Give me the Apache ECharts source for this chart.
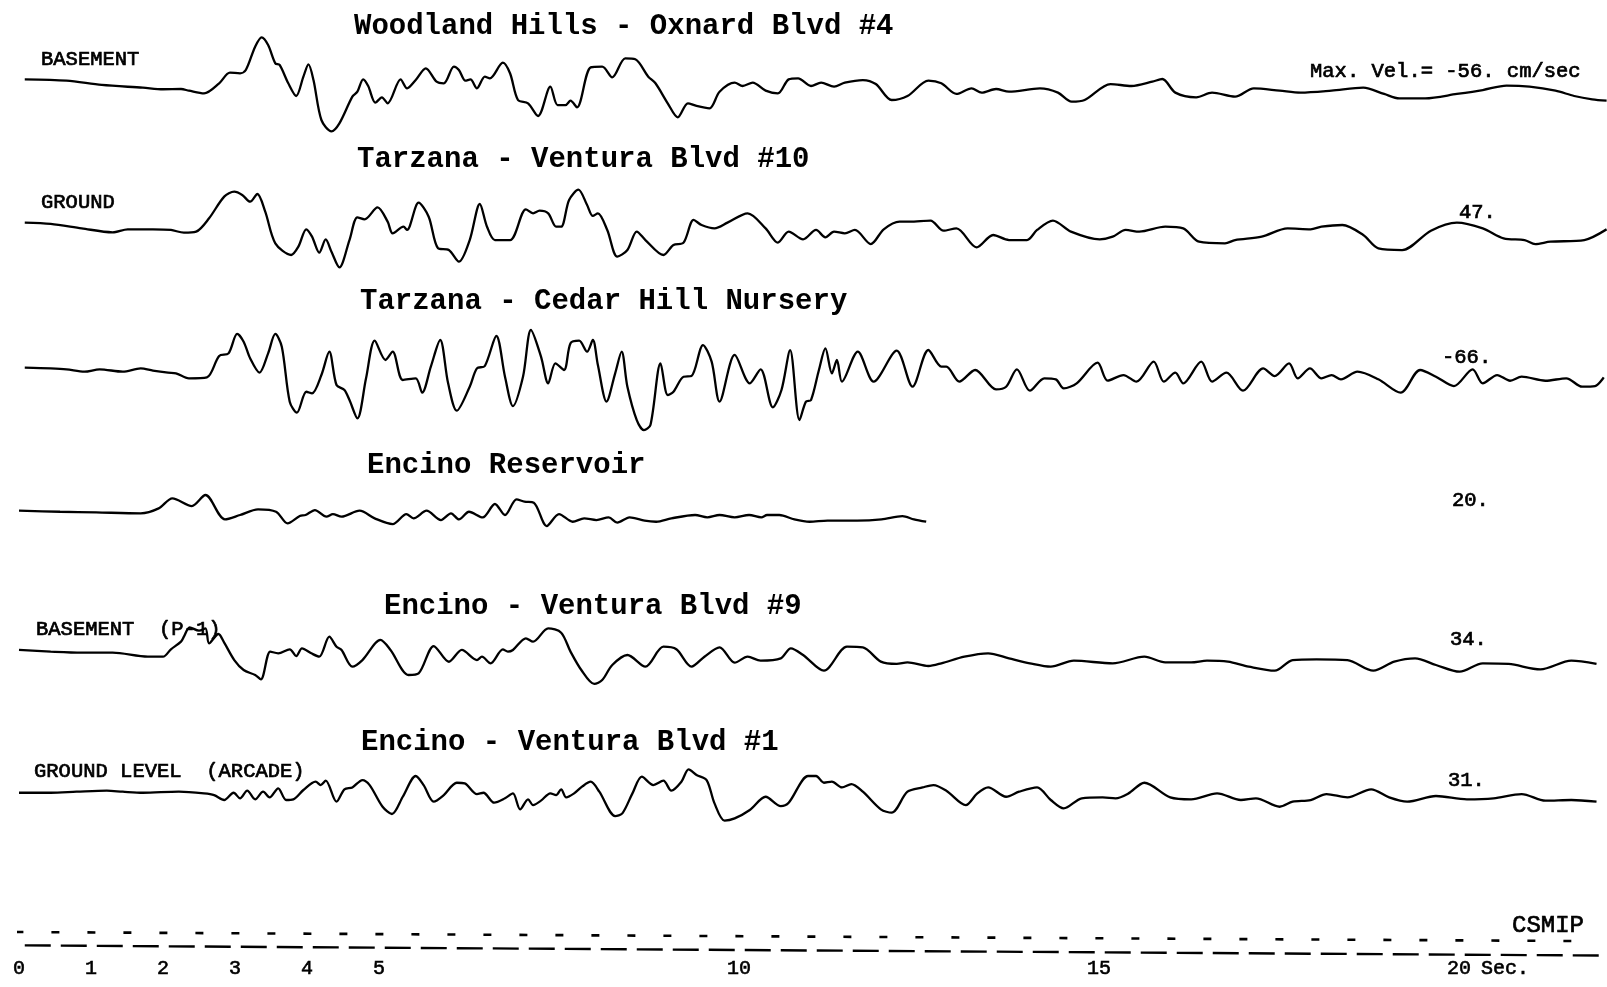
<!DOCTYPE html>
<html>
<head>
<meta charset="utf-8">
<title>Velocity records</title>
<script src="https://cdn.jsdelivr.net/npm/echarts@6/dist/echarts.min.js"></script>
<style>
  html, body { margin: 0; padding: 0; background: #fff; }
  #chart { width: 1607px; height: 987px; }
</style>
</head>
<body>
<div id="chart"></div>
<script>
// Velocity records, [time (s), velocity (cm/sec)]
const woodlandHills = [
  [0.08,-0.4],[0.66,-1.8],[1.15,-6.4],[1.72,-9.3],[2.0,-11],[2.25,-10.7],[2.36,-12.5],[2.57,-15.4],
  [2.78,-4.6],[2.93,6.8],[3.07,6.1],[3.15,9.6],[3.28,34.6],[3.37,44.6],[3.46,36.4],[3.56,16.8],
  [3.62,15],[3.74,-4.6],[3.85,-18.2],[3.95,2.5],[4.02,15.7],[4.09,-1.1],[4.2,-43.9],[4.34,-56],
  [4.45,-47.5],[4.63,-18.9],[4.7,-13.6],[4.78,-0.4],[4.85,-7.5],[4.95,-25.4],[5.04,-19.6],[5.12,-26],
  [5.3,-0.4],[5.39,-10],[5.51,-1.1],[5.65,11.4],[5.8,-2.9],[5.9,-4.6],[6.04,13.2],[6.11,9.6],
  [6.2,-1.8],[6.27,-0.4],[6.36,-10],[6.47,2.5],[6.54,0.7],[6.72,17.5],[6.82,6.1],[6.93,-22.5],
  [7.07,-26],[7.21,-39.6],[7.38,-8.2],[7.48,-27.9],[7.59,-27.9],[7.66,-23.2],[7.75,-30.4],[7.94,12.5],
  [8.1,13.2],[8.24,1.8],[8.42,22.1],[8.56,21.1],[8.74,2.5],[8.84,-4.6],[9.01,-26],[9.15,-41],
  [9.29,-26],[9.41,-28.9],[9.59,-31.4],[9.73,-13.6],[9.94,-3.9],[10.05,-7.5],[10.19,-3.9],[10.37,-12.5],
  [10.54,-15.4],[10.69,-0.4],[10.82,0.7],[11.0,-7.5],[11.14,-3.9],[11.32,-8.2],[11.47,-3.9],[11.72,-1.1],
  [11.9,-5.4],[12.12,-22.5],[12.34,-18.2],[12.63,-1.8],[12.81,-4.6],[13.02,-16],[13.23,-10],[13.37,-14.6],
  [13.57,-10.7],[13.75,-13.6],[14.18,-10],[14.43,-14.6],[14.62,-24.3],[14.8,-22.5],[15.16,-5.4],[15.45,-7.5],
  [15.74,-2.9],[15.88,0],[16.06,-14.6],[16.35,-19.6],[16.57,-14.6],[16.89,-18.9],[17.15,-10],[17.51,-12.5],
  [17.8,-14.6],[18.23,-12.5],[18.67,-9.3],[18.96,-16],[19.17,-20.7],[19.53,-20.7],[19.97,-16],[20.33,-11.8],
  [20.66,-7.1],[20.98,-8.2],[21.34,-12.5],[21.6,-18.2],[21.85,-21.8],[22.05,-23.2]
];

const tarzanaVentura = [
  [0.08,11.6],[0.44,10.2],[0.87,5.5],[1.3,1.3],[1.51,4.5],[1.86,4.5],[2.11,3.8],[2.29,0.9],
  [2.46,2],[2.64,16.3],[2.85,39.5],[2.99,44.8],[3.1,41.3],[3.21,34.1],[3.31,42.3],[3.42,23.4],
  [3.56,-10.5],[3.78,-23],[3.88,-14.1],[3.99,4.5],[4.07,-3.4],[4.17,-20.5],[4.26,-6.3],[4.34,-19.5],
  [4.45,-36.3],[4.59,-7],[4.7,17.3],[4.8,15.2],[4.98,28],[5.12,12.7],[5.19,0.2],[5.34,7.3],
  [5.39,3.8],[5.55,33],[5.69,18],[5.82,-15.9],[5.97,-17.7],[6.11,-30.2],[6.26,-7],[6.4,31.6],
  [6.5,7.3],[6.61,-7],[6.82,-7],[7.04,25.9],[7.14,21.6],[7.23,24.5],[7.35,21.6],[7.46,7.3],
  [7.53,7.3],[7.64,35.9],[7.77,47],[7.89,30.5],[7.97,18.8],[8.04,21.6],[8.17,3.8],[8.31,-24.8],
  [8.45,-17.7],[8.58,2],[8.7,-7],[8.95,-23],[9.09,-12.3],[9.23,-9.8],[9.37,14.5],[9.48,9.1],
  [9.66,5.5],[9.84,11.6],[10.12,21.6],[10.37,5.5],[10.54,-9.8],[10.69,2],[10.89,-6.3],[11.07,3.8],
  [11.2,-4.1],[11.32,2],[11.47,0.2],[11.61,3.8],[11.83,-11.3],[12.01,4.5],[12.23,12.7],[12.37,12.7],
  [12.66,13.8],[12.84,3],[13.02,5.5],[13.3,-14.8],[13.53,-1.6],[13.75,-7],[14.0,-7],[14.14,3.8],
  [14.36,13.8],[14.61,2],[15.01,-6.3],[15.19,-3.4],[15.37,3.8],[15.56,2],[15.92,7.3],[16.17,5.5],
  [16.39,-8.8],[16.75,-10.5],[16.89,-7],[17.26,-3.4],[17.62,5.5],[17.94,4.5],[18.09,7.3],[18.38,9.1],
  [18.67,-1.6],[18.88,-15.9],[19.21,-17.7],[19.61,3],[19.97,11.6],[20.33,5.5],[20.62,-5.2],[20.91,-7],
  [21.06,-11.3],[21.27,-8.8],[21.74,-7],[22.05,4.5]
];

const cedarHill = [
  [0.08,0.8],[0.44,0],[0.66,-1],[0.91,-3.5],[1.12,-1],[1.44,-3.5],[1.69,0],[1.86,-2.4],
  [2.07,-4.6],[2.18,-5.3],[2.36,-10.6],[2.61,-9.6],[2.78,13.3],[2.91,16.1],[3.03,36.9],[3.12,28.6],
  [3.21,10.8],[3.34,-4.6],[3.46,16.1],[3.56,36.9],[3.65,23.3],[3.76,-35.6],[3.86,-47.4],[3.99,-25],
  [4.07,-26.7],[4.2,-7.1],[4.31,17.9],[4.41,-17.8],[4.52,-23.1],[4.59,-33.9],[4.7,-53.5],[4.82,-10.6],
  [4.94,29.7],[5.09,9],[5.19,17.9],[5.33,-12.4],[5.51,-10.6],[5.6,-26],[5.72,1.9],[5.85,30.4],
  [5.96,-16],[6.08,-45.3],[6.26,-19.6],[6.36,0],[6.47,2.6],[6.63,34.7],[6.75,-8.9],[6.86,-40.4],
  [7.0,-8.9],[7.11,41.1],[7.25,12.6],[7.35,-16],[7.45,5.4],[7.57,-1.7],[7.66,26.9],[7.78,29.7],
  [7.89,17.9],[7.97,30.4],[8.04,3.6],[8.16,-35.6],[8.28,-5.3],[8.37,17.9],[8.45,-19.6],[8.58,-55.3],
  [8.68,-66],[8.77,-60.6],[8.91,5.4],[9.01,-28.5],[9.09,-25],[9.23,-8.9],[9.34,-8.2],[9.5,25],
  [9.62,7.2],[9.73,-35.6],[9.94,14.4],[10.15,-16],[10.3,-1],[10.47,-41.7],[10.59,-23.1],[10.71,19.5],
  [10.84,-55.3],[10.93,-35.6],[11.0,-33.9],[11.11,-1.7],[11.2,21.5],[11.29,-5.3],[11.36,9],[11.43,-14.2],
  [11.65,17.9],[11.87,-14.2],[12.19,19],[12.41,-19.6],[12.63,19.7],[12.81,1.9],[12.88,1.9],[13.06,-14.2],
  [13.28,-1.7],[13.57,-22.4],[13.71,-19.6],[13.86,-1],[14.04,-23.9],[14.24,-10.6],[14.4,-11.8],[14.51,-21.4],
  [14.69,-16],[14.98,6.1],[15.12,-13.1],[15.34,-7.1],[15.52,-14.2],[15.76,7.2],[15.9,-14.2],[16.06,-4.6],
  [16.17,-16],[16.42,7.2],[16.57,-14.2],[16.77,-4.6],[17.0,-23.9],[17.28,0],[17.44,-8.2],[17.64,5.4],
  [17.76,-10.6],[17.93,0],[18.09,-10.6],[18.23,-7.1],[18.36,-11.7],[18.59,-3.5],[18.88,-11.7],[19.19,-26],
  [19.46,-1.7],[19.68,-8.9],[19.93,-18.9],[20.19,-1],[20.33,-16],[20.53,-7.1],[20.71,-13.2],[20.87,-8.9],
  [21.2,-13.2],[21.49,-10.6],[21.71,-19.6],[21.89,-18.9],[22.01,-9.6]
];

const encinoReservoir = [
  [0.0,3.2],[0.57,2.1],[1.07,1.4],[1.69,0.4],[1.94,5.7],[2.13,16.4],[2.4,8.2],[2.59,20],
  [2.86,-6.1],[3.07,-1.4],[3.32,4.6],[3.57,2.1],[3.73,-10.4],[3.9,-2.5],[3.98,-1.4],[4.11,3.9],
  [4.27,-3.2],[4.36,-0.4],[4.48,-3.2],[4.73,3.2],[4.94,-5],[5.19,-11.1],[5.38,-0.4],[5.48,-5],
  [5.66,3.2],[5.86,-6.8],[6.0,0.4],[6.11,-6.1],[6.25,2.1],[6.44,-3.9],[6.61,10.4],[6.75,-1.4],
  [6.91,15.4],[7.02,12.9],[7.15,11.8],[7.33,-13.2],[7.5,-0.4],[7.69,-8.6],[7.85,-5],[8.02,-6.8],
  [8.19,-3.9],[8.31,-9.6],[8.48,-3.9],[8.69,-7.5],[8.85,-8.6],[9.06,-5],[9.39,-1.4],[9.56,-3.9],
  [9.73,-1.4],[9.94,-3.9],[10.14,-1.4],[10.31,-3.9],[10.39,-1.4],[10.56,-1.4],[10.77,-6.1],[10.98,-8.6],
  [11.23,-7.5],[11.64,-7.5],[11.98,-6.1],[12.27,-2.5],[12.43,-6.1],[12.6,-8.6]
];

const encinoVentura9 = [
  [0.0,2.4],[0.44,0.6],[0.87,-0.5],[1.3,-0.5],[1.79,-4.8],[2.0,-4.8],[2.11,3.1],[2.25,11.3],
  [2.29,16.6],[2.37,26.6],[2.5,23],[2.59,25.6],[2.64,9.5],[2.77,19.5],[2.85,10.2],[2.99,-8.4],
  [3.12,-19.1],[3.28,-24.4],[3.36,-29.1],[3.49,0.6],[3.6,-1.2],[3.76,3.1],[3.85,-4.1],[3.93,4.1],
  [4.06,-1.2],[4.17,-4.8],[4.31,16.6],[4.41,5.9],[4.48,2.4],[4.63,-15.5],[4.77,-8.4],[5.02,13.1],
  [5.16,2.4],[5.41,-24.4],[5.55,-22.7],[5.76,6.6],[5.97,-10.2],[6.15,2.4],[6.36,-8.4],[6.43,-4.8],
  [6.55,-11.9],[6.72,3.1],[6.79,0.6],[6.86,2.4],[7.04,14.9],[7.14,11.3],[7.35,25.6],[7.53,20.9],
  [7.66,0.6],[7.81,-19.1],[7.99,-34],[8.1,-29.8],[8.24,-13.7],[8.45,-3],[8.7,-15.5],[8.95,5.9],
  [9.13,3.1],[9.34,-15.5],[9.52,-4.8],[9.73,5.2],[9.94,-11.2],[10.12,-4.8],[10.3,-9.1],[10.58,-6.6],
  [10.72,4.1],[10.89,-3],[11.18,-19.8],[11.5,5.9],[11.72,5.2],[11.97,-10.1],[12.19,-12.6],[12.34,-10.9],
  [12.63,-14.8],[12.81,-11.9],[13.13,-4.8],[13.46,-1.2],[13.75,-6.6],[14.04,-11.9],[14.33,-15.5],[14.65,-9.1],
  [15.19,-11.9],[15.63,-4.8],[15.92,-10.9],[16.28,-10.9],[16.5,-9.1],[16.79,-10.2],[17.08,-15.5],[17.44,-19.8],
  [17.69,-8.4],[18.02,-7.6],[18.45,-8.4],[18.81,-19.8],[19.1,-10.2],[19.39,-6.6],[19.68,-13.7],[20.01,-20.9],
  [20.33,-11.9],[20.69,-12.6],[21.13,-18.4],[21.56,-9.1],[21.91,-12.6]
];

const encinoVentura1 = [
  [0.0,-1.1],[0.44,-1.1],[0.8,0],[1.22,1.1],[1.44,0],[1.72,-1.1],[2.22,0],[2.57,-1.8],
  [2.71,-3.6],[2.85,-8.9],[2.98,-1.1],[3.07,-7.1],[3.17,1.1],[3.28,-8.2],[3.39,0],[3.48,-6.1],
  [3.6,3.6],[3.71,-8.9],[3.81,-8.2],[3.95,1.8],[4.12,10.7],[4.19,7.1],[4.26,11.8],[4.41,-10.7],
  [4.52,2.5],[4.63,4.6],[4.77,12.5],[4.87,7.1],[5.05,-16.1],[5.18,-23.9],[5.33,-5.4],[5.51,16.8],
  [5.62,7.1],[5.76,-10.7],[5.9,-3.6],[6.08,9.6],[6.19,8.9],[6.36,-2.5],[6.45,-1.1],[6.6,-11.8],
  [6.75,-7.1],[6.86,-1.8],[6.96,-18.9],[7.07,-8.2],[7.14,-14.3],[7.25,-9.6],[7.38,-1.8],[7.46,-3.6],
  [7.53,2.5],[7.6,-6.1],[7.71,-1.8],[7.82,5.4],[7.94,10.7],[8.06,0],[8.28,-26.1],[8.38,-23.2],
  [8.52,-1.8],[8.65,16.1],[8.81,7.1],[8.95,11.8],[9.06,1.1],[9.2,10.7],[9.3,23.9],[9.41,17.9],
  [9.55,12.5],[9.66,-12.5],[9.8,-31],[9.94,-28.6],[10.15,-19.6],[10.37,-5.4],[10.58,-15.4],[10.69,-11.8],
  [10.96,16.8],[11.07,16.8],[11.18,9.6],[11.29,10.7],[11.43,4.6],[11.56,8.2],[11.72,0],[11.97,-18.9],
  [12.12,-22.5],[12.34,0],[12.55,4.6],[12.7,7.1],[12.88,1.1],[13.15,-14.3],[13.31,-1.8],[13.46,4.6],
  [13.71,-5.4],[13.89,0],[14.14,4.6],[14.33,-8.9],[14.51,-17.9],[14.76,-7.1],[15.05,-6.1],[15.23,-7.1],
  [15.41,-1.8],[15.63,9.6],[15.99,-6.1],[16.28,-8.2],[16.64,-1.8],[16.97,-8.9],[17.18,-7.1],[17.51,-16.1],
  [17.69,-10.7],[17.94,-8.9],[18.16,-2.5],[18.45,-6.1],[18.78,2.5],[19.03,-6.1],[19.28,-10.7],[19.68,-4.6],
  [20.11,-8.2],[20.48,-7.1],[20.87,-2.5],[21.2,-9.6],[21.56,-8.9],[21.91,-10.7]
];

// Station names, channel notes and peak readouts
const stationNames = [
  'Woodland Hills - Oxnard Blvd #4',
  'Tarzana - Ventura Blvd #10',
  'Tarzana - Cedar Hill Nursery',
  'Encino Reservoir',
  'Encino - Ventura Blvd #9',
  'Encino - Ventura Blvd #1'
];
const channelNotes = ['BASEMENT', 'GROUND', '', '', 'BASEMENT  (P-1)', 'GROUND LEVEL  (ARCADE)'];
const peakLabels = ['Max. Vel.= -56. cm/sec', '47.', '-66.', '20.', '34.', '31.'];

// Time scale: labelled seconds and the two rows of timing marks
const timeTicks = [0, 1, 2, 3, 4, 5, 10, 15, 20];
const timeUnit = 'Sec.';
const timingMarksUpper = [[-0.05, 7], [21.56, 16]];
const timingMarksLower = [[0.08, 20.4], [22.05, 30.6]];

const traces = [woodlandHills, tarzanaVentura, cedarHill, encinoReservoir, encinoVentura9, encinoVentura1];

// ---- layout ----
const PLOT_LEFT = 19;          // x of t = 0
const PX_PER_SEC = 72;
const T_MAX = 22.05;
const PLOT_RIGHT = 1607 - PLOT_LEFT - T_MAX * PX_PER_SEC;
const PX_PER_UNIT = 0.934;     // vertical scale, px per cm/sec
const Y_SPAN = 80;             // +/- cm/sec shown around each zero line
const zeroLines = [79, 233.5, 368.4, 513.7, 652.2, 791.7];
const UNIT_LABEL_AT = 20.64;   // where "Sec." sits after the last second mark

const MONO = "'Liberation Mono', 'DejaVu Sans Mono', monospace";
const titleFont = 'bold 29px ' + MONO;
const noteFont = '20.5px ' + MONO;

const grids = [], xAxes = [], yAxes = [], series = [];

traces.forEach((data, i) => {
  const h = 2 * Y_SPAN * PX_PER_UNIT;
  grids.push({ left: PLOT_LEFT, right: PLOT_RIGHT, top: zeroLines[i] - h / 2, height: h, containLabel: false });
  xAxes.push({ gridIndex: i, type: 'value', min: 0, max: T_MAX, show: false });
  yAxes.push({ gridIndex: i, type: 'value', min: -Y_SPAN, max: Y_SPAN, show: false });
  series.push({
    type: 'line', xAxisIndex: i, yAxisIndex: i, data: data,
    showSymbol: false, smooth: 0.3, silent: true, clip: false,
    lineStyle: { color: '#000', width: 2.3 }
  });
});

// timing-mark strip with the seconds scale
const gi = traces.length;
grids.push({ left: PLOT_LEFT, right: PLOT_RIGHT, top: 925, height: 40 });
xAxes.push({
  gridIndex: gi, type: 'value', min: 0, max: T_MAX,
  axisLine: { show: false }, axisTick: { show: false }, splitLine: { show: false },
  axisLabel: {
    customValues: timeTicks.concat([UNIT_LABEL_AT]),
    formatter: v => (v > 20.1 ? timeUnit : String(v)),
    color: '#000', fontFamily: MONO, fontSize: 20,
    textBorderColor: '#000', textBorderWidth: 0.6,
    verticalAlign: 'middle', margin: 4
  }
});
yAxes.push({ gridIndex: gi, type: 'value', min: 0, max: 40, inverse: true, show: false });
series.push({
  type: 'line', xAxisIndex: gi, yAxisIndex: gi, data: timingMarksUpper,
  showSymbol: false, silent: true,
  lineStyle: { color: '#000', width: 2.6, type: [8, 28] }
});
series.push({
  type: 'line', xAxisIndex: gi, yAxisIndex: gi, data: timingMarksLower,
  showSymbol: false, silent: true,
  lineStyle: { color: '#000', width: 2.4, type: [26, 10] }
});

// ---- text ----
const titlePos = [[354, 27], [357, 160], [360, 302], [367, 466], [384, 607], [361, 743]];
const notePos = [[41, 60], [41, 203], null, null, [36, 630], [34, 772]];
const peakPos = [[1310, 72], [1459, 213], [1442, 358], [1452, 501], [1450, 640], [1448, 781]];

function plotterText(x, y, text, font) {
  return { type: 'text', x: x, y: y, silent: true,
    style: { text: text, font: font, fill: '#000', stroke: '#000', lineWidth: 0.7,
             textAlign: 'left', textVerticalAlign: 'middle' } };
}

const graphic = [];
stationNames.forEach((name, i) => {
  graphic.push({ type: 'text', x: titlePos[i][0], y: titlePos[i][1], silent: true,
    style: { text: name, font: titleFont, fill: '#000', textAlign: 'left', textVerticalAlign: 'middle' } });
  if (channelNotes[i]) graphic.push(plotterText(notePos[i][0], notePos[i][1], channelNotes[i], noteFont));
  graphic.push(plotterText(peakPos[i][0], peakPos[i][1], peakLabels[i], noteFont));
});
graphic.push(plotterText(1512, 926, 'CSMIP', '24px ' + MONO));

const chart = echarts.init(document.getElementById('chart'), null, { renderer: 'canvas' });
chart.setOption({
  backgroundColor: '#fff',
  animation: false,
  grid: grids,
  xAxis: xAxes,
  yAxis: yAxes,
  series: series,
  graphic: graphic
});
</script>
</body>
</html>
